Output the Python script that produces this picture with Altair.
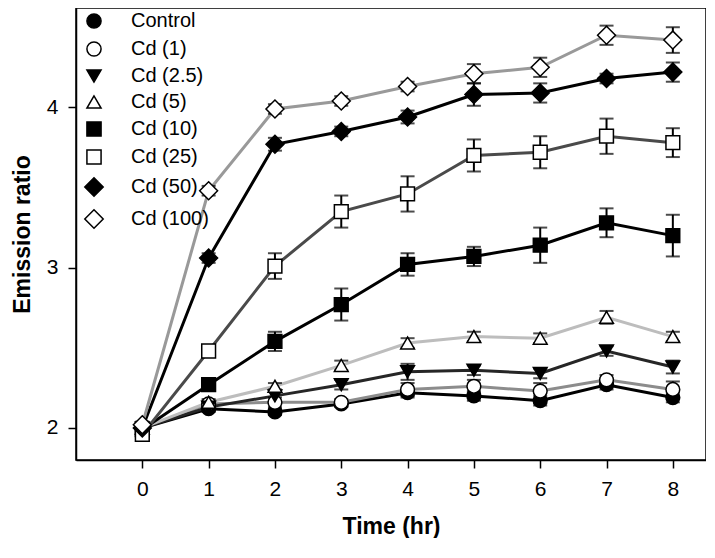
import altair as alt
import pandas as pd

times = [0, 1, 2, 3, 4, 5, 6, 7, 8]
series_names = ["Control", "Cd (1)", "Cd (2.5)", "Cd (5)", "Cd (10)", "Cd (25)", "Cd (50)", "Cd (100)"]

control = [2.00, 2.12, 2.10, 2.15, 2.22, 2.20, 2.17, 2.27, 2.19]
cd1 = [2.00, 2.15, 2.16, 2.16, 2.24, 2.26, 2.23, 2.30, 2.24]
cd2_5 = [2.00, 2.13, 2.20, 2.27, 2.35, 2.36, 2.34, 2.48, 2.38]
cd5 = [2.00, 2.16, 2.26, 2.39, 2.53, 2.57, 2.56, 2.69, 2.57]
cd10 = [1.99, 2.27, 2.54, 2.77, 3.02, 3.07, 3.14, 3.28, 3.20]
cd25 = [1.96, 2.48, 3.01, 3.35, 3.46, 3.70, 3.72, 3.82, 3.78]
cd50 = [2.00, 3.06, 3.77, 3.85, 3.94, 4.08, 4.09, 4.18, 4.22]
cd100 = [2.02, 3.48, 3.99, 4.04, 4.13, 4.21, 4.25, 4.45, 4.42]

err_control = [0.00, 0.02, 0.02, 0.02, 0.03, 0.03, 0.03, 0.03, 0.03]
err_cd1 = [0.00, 0.02, 0.03, 0.02, 0.04, 0.04, 0.05, 0.03, 0.05]
err_cd2_5 = [0.00, 0.02, 0.03, 0.03, 0.05, 0.03, 0.03, 0.03, 0.04]
err_cd5 = [0.00, 0.02, 0.02, 0.03, 0.03, 0.03, 0.03, 0.04, 0.03]
err_cd10 = [0.02, 0.03, 0.06, 0.10, 0.07, 0.06, 0.11, 0.09, 0.13]
err_cd25 = [0.02, 0.03, 0.08, 0.10, 0.11, 0.10, 0.10, 0.11, 0.09]
err_cd50 = [0.02, 0.03, 0.04, 0.03, 0.04, 0.07, 0.06, 0.03, 0.06]
err_cd100 = [0.02, 0.03, 0.03, 0.03, 0.03, 0.06, 0.06, 0.06, 0.08]

values = [control, cd1, cd2_5, cd5, cd10, cd25, cd50, cd100]
errors = [err_control, err_cd1, err_cd2_5, err_cd5, err_cd10, err_cd25, err_cd50, err_cd100]

DIAMOND = "M0,-1.3L1.3,0L0,1.3L-1.3,0Z"
shapes = ["circle", "circle", "triangle-down", "triangle-up", "square", "square", DIAMOND, DIAMOND]
fills = ["black", "white", "black", "white", "black", "white", "black", "white"]
strokes = ["black"] * 8
line_colors = ["#000000", "#8c8c8c", "#262626", "#bdbdbd", "#000000", "#4a4a4a", "#000000", "#999999"]

rows = []
for i, name in enumerate(series_names):
    for t, v, e in zip(times, values[i], errors[i]):
        rows.append({"series": name, "line_series": name, "order": i, "time": t,
                     "value": v, "lo": v - e, "hi": v + e})
df = pd.DataFrame(rows)

FONT = "Liberation Sans"

x_enc = alt.X("time:Q", scale=alt.Scale(domain=[-1, 8.5], nice=False),
              axis=alt.Axis(values=times, title="Time (hr)", grid=False, format="d"))
y_scale = alt.Scale(domain=[1.8, 4.62], nice=False, zero=False)

base = alt.Chart(df)

# no explicit domain here, so this hidden legend is not merged with the symbol legend
lines = base.mark_line(strokeWidth=3).encode(
    x=x_enc,
    y=alt.Y("value:Q", scale=y_scale,
            axis=alt.Axis(values=[2, 3, 4], title="Emission ratio", grid=False, format="d")),
    color=alt.Color("line_series:N", sort=series_names,
                    scale=alt.Scale(range=line_colors), legend=None),
    order="time:Q",
)

rules = base.mark_rule(color="black", strokeWidth=2).encode(
    x="time:Q", y=alt.Y("lo:Q", scale=y_scale), y2="hi:Q"
)
caps_hi = base.mark_tick(color="black", thickness=2, size=14, orient="horizontal").encode(
    x="time:Q", y=alt.Y("hi:Q", scale=y_scale)
)
caps_lo = base.mark_tick(color="black", thickness=2, size=14, orient="horizontal").encode(
    x="time:Q", y=alt.Y("lo:Q", scale=y_scale)
)

legend = alt.Legend(title=None, orient="none", legendX=8, legendY=3, padding=0,
                    labelFont=FONT, labelFontSize=20, labelColor="black",
                    symbolStrokeColor="black", symbolStrokeWidth=1.5,
                    symbolSize=200, rowPadding=6, labelOffset=27)

points = base.mark_point(size=190, stroke="black", strokeWidth=1.5, opacity=1, fillOpacity=1).encode(
    x="time:Q",
    y=alt.Y("value:Q", scale=y_scale),
    shape=alt.Shape("series:N", sort=series_names,
                    scale=alt.Scale(domain=series_names, range=shapes), legend=legend),
    fill=alt.Fill("series:N", sort=series_names,
                  scale=alt.Scale(domain=series_names, range=fills), legend=legend),
    stroke=alt.Stroke("series:N", sort=series_names,
                      scale=alt.Scale(domain=series_names, range=strokes), legend=legend),
)

chart = alt.layer(lines, rules, caps_hi, caps_lo, points).properties(
    width=630, height=452,
    padding={"left": 3, "top": 0, "right": 0, "bottom": 0},
).configure_view(
    stroke="black", strokeWidth=1.5
).configure_axis(
    domainColor="black", domainWidth=1.5, tickColor="black", tickWidth=1.5,
    tickSize=8, labelFont=FONT, labelFontSize=21, labelColor="black",
    titleFont=FONT, titleFontSize=23, titleFontWeight="bold", titleColor="black",
).configure_axisX(
    labelPadding=10, titlePadding=16,
).configure_axisY(
    labelPadding=10, titlePadding=12,
)

chart.save("out.html", embed_options={"renderer": "svg", "actions": False})
